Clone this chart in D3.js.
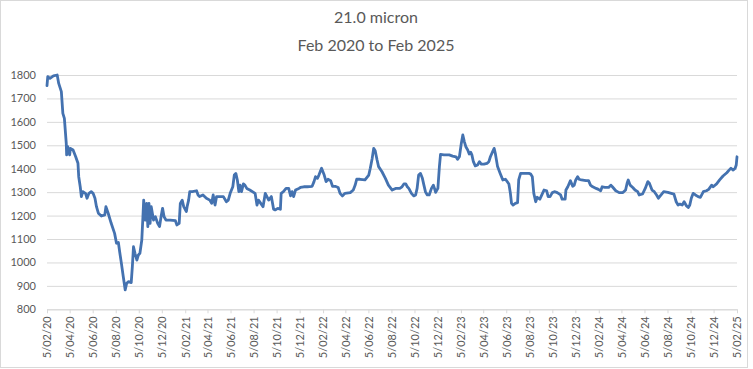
<!DOCTYPE html>
<html>
<head>
<meta charset="utf-8">
<script src="https://cdn.jsdelivr.net/npm/d3@7"></script>
<style>
	body { margin: 0; background: #fff; }
	text { font-family: Lato, "Open Sans", sans-serif; }
</style>
</head>
<body>
<svg id="chart" width="753" height="369"></svg>
<script>
// chart values
const titleLines = ["21.0 micron", "Feb 2020 to Feb 2025"];

const yTicks = [800, 900, 1000, 1100, 1200, 1300, 1400, 1500, 1600, 1700, 1800];

const xTickLabels = [
	"5/02/20","5/04/20","5/06/20","5/08/20","5/10/20","5/12/20",
	"5/02/21","5/04/21","5/06/21","5/08/21","5/10/21","5/12/21",
	"5/02/22","5/04/22","5/06/22","5/08/22","5/10/22","5/12/22",
	"5/02/23","5/04/23","5/06/23","5/08/23","5/10/23","5/12/23",
	"5/02/24","5/04/24","5/06/24","5/08/24","5/10/24","5/12/24",
	"5/02/25"];

const saleDates = [
	// 2020
	"2020-02-05","2020-02-07","2020-02-13","2020-02-22","2020-03-03","2020-03-07","2020-03-14","2020-03-18",
	"2020-03-22","2020-03-27","2020-03-28","2020-03-31","2020-04-05","2020-04-07","2020-04-14","2020-04-21",
	"2020-04-27","2020-04-29","2020-05-03","2020-05-06","2020-05-10","2020-05-17","2020-05-21","2020-05-26",
	"2020-06-01","2020-06-06","2020-06-11","2020-06-15","2020-06-20","2020-06-28","2020-07-07","2020-07-10",
	"2020-07-16","2020-07-24","2020-08-02","2020-08-07","2020-08-12","2020-08-16","2020-08-20","2020-08-25",
	"2020-08-30","2020-09-03","2020-09-08","2020-09-15","2020-09-18","2020-09-21","2020-09-25","2020-09-30",
	"2020-10-04","2020-10-08","2020-10-13","2020-10-16","2020-10-18","2020-10-22","2020-10-26","2020-10-29",
	"2020-11-01","2020-11-04","2020-11-07","2020-11-13","2020-11-18","2020-11-24","2020-11-29","2020-12-03",
	"2020-12-07","2020-12-11","2020-12-16","2020-12-27",
	// 2021
	"2021-01-10","2021-01-14","2021-01-20","2021-01-23","2021-01-28","2021-02-01","2021-02-08","2021-02-10",
	"2021-02-14","2021-02-17","2021-02-24","2021-03-07","2021-03-11","2021-03-15","2021-03-24","2021-04-02",
	"2021-04-11","2021-04-16","2021-04-20","2021-04-25","2021-04-29","2021-05-08","2021-05-17","2021-05-25",
	"2021-05-30","2021-06-04","2021-06-11","2021-06-15","2021-06-19","2021-06-23","2021-06-27","2021-06-30",
	"2021-07-04","2021-07-09","2021-07-13","2021-07-18","2021-07-26","2021-08-09","2021-08-14","2021-08-18",
	"2021-08-24","2021-08-30","2021-09-05","2021-09-14","2021-09-21","2021-09-27","2021-10-01","2021-10-08",
	"2021-10-15","2021-10-17","2021-10-23","2021-10-30","2021-11-06","2021-11-11","2021-11-15","2021-11-19",
	"2021-11-24","2021-12-03","2021-12-07","2021-12-16","2021-12-25",
	// 2022
	"2022-01-07","2022-01-12","2022-01-16","2022-01-21","2022-01-25","2022-02-01","2022-02-08","2022-02-13",
	"2022-02-18","2022-02-25","2022-03-02","2022-03-09","2022-03-17","2022-03-22","2022-03-28","2022-04-04",
	"2022-04-18","2022-04-26","2022-05-01","2022-05-05","2022-05-14","2022-05-27","2022-06-06","2022-06-10",
	"2022-06-15","2022-06-19","2022-06-23","2022-06-28","2022-07-02","2022-07-11","2022-07-20","2022-07-28",
	"2022-08-07","2022-08-16","2022-08-27","2022-09-02","2022-09-07","2022-09-12","2022-09-16","2022-09-20",
	"2022-09-27","2022-10-03","2022-10-08","2022-10-12","2022-10-16","2022-10-21","2022-10-26","2022-10-30",
	"2022-11-03","2022-11-08","2022-11-13","2022-11-19","2022-11-24","2022-11-27","2022-11-30","2022-12-06",
	"2022-12-10","2022-12-13","2022-12-22",
	// 2023
	"2023-01-05","2023-01-14","2023-01-23","2023-01-27","2023-02-01","2023-02-06","2023-02-10","2023-02-14",
	"2023-02-18","2023-02-23","2023-02-27","2023-03-03","2023-03-06","2023-03-10","2023-03-15","2023-03-21",
	"2023-03-26","2023-03-31","2023-04-07","2023-04-15","2023-04-20","2023-04-24","2023-04-30","2023-05-04",
	"2023-05-07","2023-05-13","2023-05-20","2023-05-27","2023-06-03","2023-06-12","2023-06-16","2023-06-19",
	"2023-06-23","2023-06-29","2023-07-05","2023-07-08","2023-07-13","2023-07-21","2023-08-04","2023-08-09",
	"2023-08-13","2023-08-17","2023-08-22","2023-08-26","2023-09-02","2023-09-09","2023-09-13","2023-09-20",
	"2023-09-24","2023-09-29","2023-10-05","2023-10-12","2023-10-18","2023-10-27","2023-10-31","2023-11-08",
	"2023-11-10","2023-11-15","2023-11-22","2023-11-28","2023-12-02","2023-12-06","2023-12-11","2023-12-15",
	"2023-12-21",
	// 2024
	"2024-01-02","2024-01-09","2024-01-14","2024-01-20","2024-01-29","2024-02-04","2024-02-10","2024-02-14",
	"2024-02-21","2024-03-02","2024-03-08","2024-03-12","2024-03-21","2024-03-30","2024-04-09","2024-04-16",
	"2024-04-20","2024-04-23","2024-04-28","2024-05-05","2024-05-11","2024-05-18","2024-05-22","2024-05-31",
	"2024-06-07","2024-06-14","2024-06-18","2024-06-25","2024-07-01","2024-07-07","2024-07-12","2024-07-19",
	"2024-07-26","2024-08-06","2024-08-15","2024-08-22","2024-08-28","2024-09-02","2024-09-07","2024-09-13",
	"2024-09-18","2024-09-24","2024-09-29","2024-10-03","2024-10-07","2024-10-12","2024-10-18","2024-10-25",
	"2024-10-31","2024-11-08","2024-11-16","2024-11-22","2024-11-30","2024-12-04","2024-12-13","2024-12-21",
	"2024-12-30",
	// 2025
	"2025-01-09","2025-01-15","2025-01-20","2025-01-26","2025-01-31","2025-02-03","2025-02-05"];

const prices = [
	// 2020
	1755,1793,1786,1796,1800,1764,1729,1636,
	1615,1508,1459,1494,1459,1487,1480,1451,
	1423,1366,1323,1281,1302,1295,1274,1295,
	1302,1295,1274,1238,1210,1198,1203,1238,
	1210,1167,1124,1082,1085,1039,996,939,
	883,911,918,914,982,1067,1039,1010,
	1032,1039,1096,1195,1266,1181,1252,1153,
	1252,1167,1238,1181,1195,1167,1153,1195,
	1231,1195,1181,1181,
	// 2021
	1178,1160,1167,1252,1266,1238,1217,1238,
	1266,1302,1302,1306,1288,1281,1288,1274,
	1266,1252,1288,1245,1281,1281,1281,1259,
	1266,1295,1323,1373,1380,1352,1302,1330,
	1302,1335,1330,1316,1309,1295,1245,1266,
	1252,1238,1295,1266,1281,1227,1224,1231,
	1227,1295,1302,1316,1316,1284,1302,1281,
	1309,1316,1320,1323,1323,
	// 2022
	1325,1345,1366,1359,1373,1402,1373,1345,
	1355,1349,1325,1325,1320,1295,1284,1295,
	1298,1309,1330,1355,1355,1352,1373,1402,
	1444,1487,1477,1437,1409,1387,1359,1330,
	1309,1316,1316,1323,1335,1335,1323,1316,
	1295,1284,1288,1316,1373,1380,1359,1330,
	1302,1288,1288,1316,1330,1316,1299,1316,
	1409,1461,1459,
	// 2023
	1459,1454,1451,1440,1451,1508,1544,1516,
	1494,1480,1463,1470,1459,1430,1412,1416,
	1430,1420,1420,1423,1430,1451,1473,1487,
	1466,1409,1380,1352,1355,1335,1295,1252,
	1245,1252,1255,1352,1380,1380,1380,1377,
	1366,1295,1259,1278,1270,1295,1309,1306,
	1281,1281,1298,1302,1298,1288,1270,1270,
	1309,1323,1349,1325,1330,1352,1366,1355,
	1352,
	// 2024
	1349,1349,1330,1323,1316,1312,1306,1323,
	1320,1320,1330,1323,1306,1298,1298,1309,
	1338,1352,1330,1320,1309,1302,1288,1292,
	1316,1345,1338,1309,1302,1288,1274,1288,
	1302,1299,1295,1292,1259,1245,1249,1245,
	1259,1242,1234,1245,1274,1295,1288,1281,
	1278,1302,1306,1312,1330,1323,1335,1352,
	1369,
	// 2025
	1383,1394,1402,1394,1402,1416,1451];

const svg = d3.select('#chart');
const W = 753, H = 369;
const plotLeft = 47, plotRight = 737, plotTop = 75, plotBottom = 309.3;
const gridColor = '#d9d9d9';
const textColor = '#595959';

const parseIso = d3.timeParse('%Y-%m-%d');
const parseTick = d3.timeParse('%d/%m/%y');

const data = saleDates.map((d, i) => ({ date: parseIso(d), value: prices[i] }));
const tickDates = xTickLabels.map(parseTick);

// outer frame
svg.append('rect')
	.attr('x', 0.5).attr('y', 0.5)
	.attr('width', W - 6).attr('height', H - 2)
	.attr('fill', '#fff')
	.attr('stroke', gridColor);

const x = d3.scaleTime()
	.domain([tickDates[0], tickDates[tickDates.length - 1]])
	.range([plotLeft, plotRight]);
const y = d3.scaleLinear().domain([800, 1800]).range([plotBottom, plotTop]);

// y axis + gridlines
const gy = svg.append('g')
	.attr('transform', 'translate(' + plotLeft + ',0)')
	.call(d3.axisLeft(y).tickValues(yTicks).tickFormat(d3.format('d'))
		.tickSize(-(plotRight - plotLeft)).tickPadding(11));
gy.select('.domain').remove();
gy.selectAll('.tick line').attr('stroke', gridColor);
gy.selectAll('.tick text')
	.attr('fill', textColor)
	.attr('font-size', 11)
	.style('font-family', 'Lato, sans-serif');

// x axis, rotated labels
const gx = svg.append('g')
	.attr('transform', 'translate(0,' + plotBottom + ')')
	.call(d3.axisBottom(x).tickValues(tickDates).tickSize(4).tickSizeOuter(0)
		.tickFormat((d, i) => xTickLabels[i]));
gx.select('.domain').attr('stroke', gridColor);
gx.selectAll('.tick line').attr('stroke', gridColor);
gx.selectAll('.tick text')
	.attr('transform', 'rotate(-90)')
	.attr('text-anchor', 'end')
	.attr('x', -7)
	.attr('y', 0)
	.attr('dy', '0.35em')
	.attr('fill', textColor)
	.attr('font-size', 11)
	.style('font-family', 'Lato, sans-serif');

// the price line
const line = d3.line().x(d => x(d.date)).y(d => y(d.value));
svg.append('path')
	.datum(data)
	.attr('d', line)
	.attr('fill', 'none')
	.attr('stroke', '#4472b0')
	.attr('stroke-width', 2.8)
	.attr('stroke-linejoin', 'round')
	.attr('stroke-linecap', 'round');

// title
svg.selectAll('.title')
	.data(titleLines)
	.enter().append('text')
	.attr('class', 'title')
	.attr('x', 376)
	.attr('y', (d, i) => 23 + i * 28)
	.attr('text-anchor', 'middle')
	.attr('font-size', 16)
	.attr('fill', textColor)
	.text(d => d);
</script>
</body>
</html>
